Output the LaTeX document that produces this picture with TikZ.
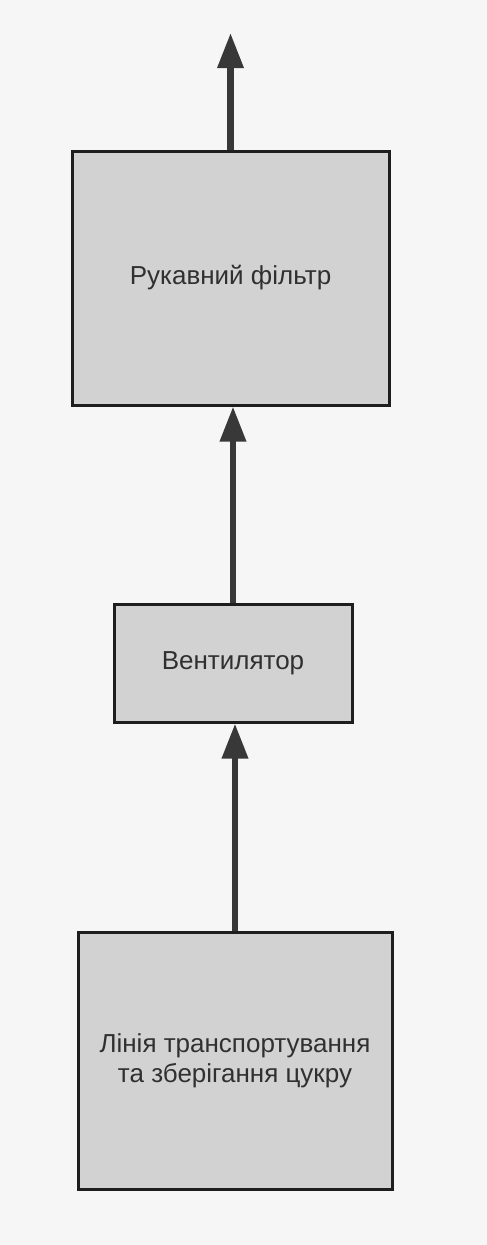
\documentclass[tikz,border=0pt]{standalone}
\usepackage{fontspec}
\setmainfont{Liberation Sans}
\usetikzlibrary{arrows.meta}
\definecolor{boxfill}{HTML}{D2D2D2}
\definecolor{boxline}{HTML}{1E1E1E}
\definecolor{arrowcol}{HTML}{383838}
\definecolor{txtcol}{HTML}{303030}
\definecolor{paper}{HTML}{F6F6F6}
\begin{document}
\begin{tikzpicture}[x=1pt,y=-1pt,
  blockbox/.style={draw=boxline, fill=boxfill, line width=3pt, inner sep=0pt,
    text=txtcol, align=center,
    font=\fontsize{26}{30}\selectfont},
  flowarrow/.style={draw=arrowcol, line width=6.5pt,
    -{Triangle[length=35pt,width=25pt]}}]
\fill[paper] (0,0) rectangle (487,1245);
\useasboundingbox (0,0) rectangle (487,1245);
\node[blockbox, minimum width=317pt, minimum height=254pt] (f1) at (230.5,278) {Рукавний фільтр};
\node[blockbox, minimum width=238pt, minimum height=118pt] (f2) at (233,663) {Вентилятор};
\node[blockbox, minimum width=314pt, minimum height=257pt] (f3) at (235,1060.5) {Лінія транспортування\\та зберігання цукру};
\coordinate (out) at (230.5,33);
\draw[flowarrow] (f1.north) -- (out);
\draw[flowarrow] (f2.north) -- (f2.north |- f1.south);
\draw[flowarrow] (f3.north) -- (f3.north |- f2.south);
\end{tikzpicture}
\end{document}
